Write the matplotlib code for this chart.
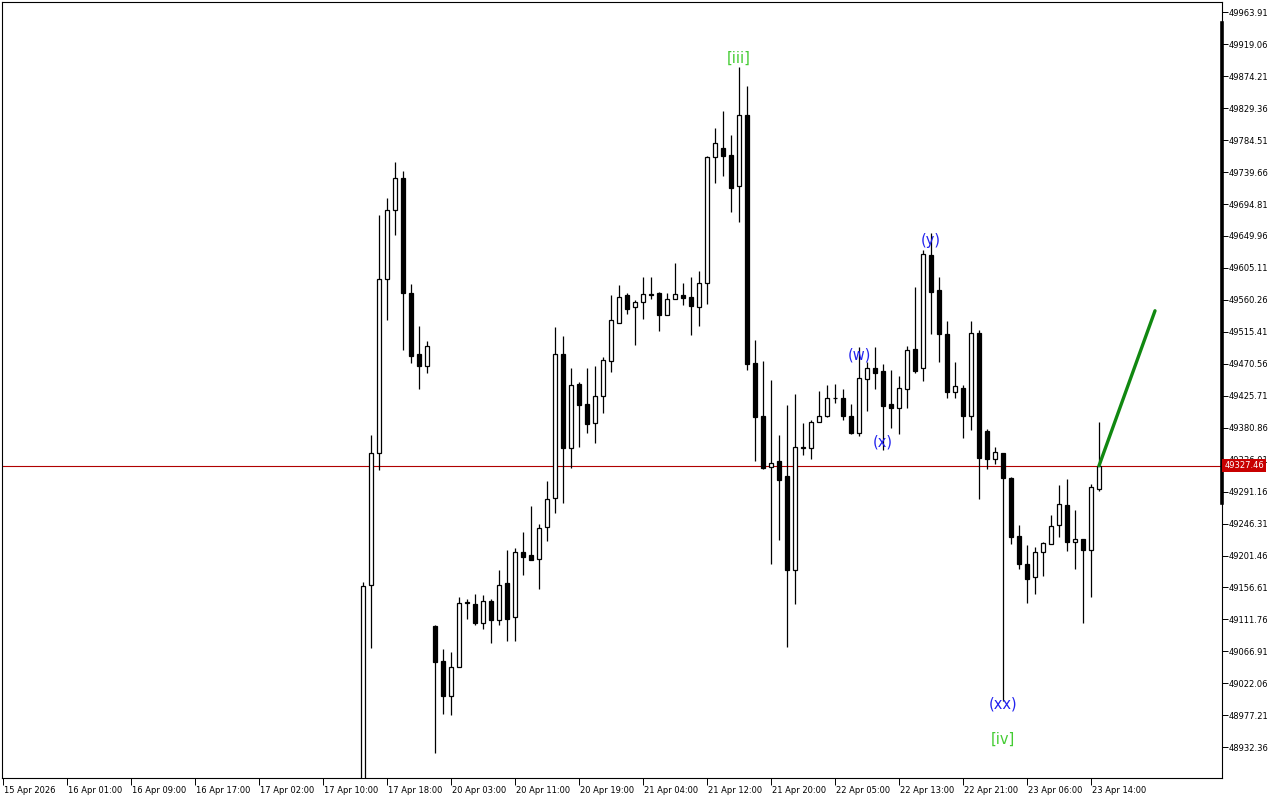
import matplotlib
matplotlib.use("Agg")
import matplotlib.pyplot as plt
import matplotlib.transforms as mtransforms

# hourly candles; bar numbers count chart slots from the left edge
first_bar = 45
opens = [48858, 49160, 49345, 49590, 49686, 49731, 49570, 49484, 49468, 49103,
         49053, 49004, 49045, 49135, 49133, 49107, 49138, 49111, 49163, 49115,
         49206, 49202, 49196, 49241, 49282, 49485, 49352, 49442, 49414, 49388,
         49425, 49474, 49528, 49567, 49550, 49557, 49568, 49570, 49539, 49561,
         49567, 49564, 49550, 49584, 49761, 49773, 49764, 49720, 49820, 49472,
         49397, 49326, 49334, 49313, 49181, 49352, 49352, 49389, 49397, 49422,
         49422, 49398, 49373, 49449, 49464, 49460, 49414, 49409, 49435, 49491,
         49464, 49623, 49574, 49512, 49431, 49437, 49398, 49514, 49376, 49337,
         49346, 49310, 49229, 49190, 49171, 49207, 49218, 49244, 49272, 49220,
         49224, 49209, 49295]
highs = [49164, 49371, 49679, 49703, 49754, 49741, 49583, 49524, 49503, 49104,
         49070, 49066, 49143, 49140, 49148, 49146, 49140, 49181, 49209, 49212,
         49235, 49271, 49246, 49306, 49522, 49510, 49464, 49445, 49465, 49468,
         49480, 49567, 49581, 49570, 49560, 49592, 49592, 49572, 49570, 49612,
         49584, 49592, 49601, 49762, 49802, 49825, 49792, 49887, 49860, 49504,
         49474, 49448, 49371, 49413, 49428, 49388, 49391, 49432, 49441, 49442,
         49435, 49414, 49494, 49473, 49494, 49470, 49462, 49454, 49496, 49578,
         49630, 49654, 49592, 49530, 49473, 49441, 49530, 49518, 49379, 49354,
         49346, 49312, 49245, 49216, 49214, 49220, 49258, 49300, 49309, 49266,
         49224, 49302, 49389]
lows = [48850, 49072, 49322, 49532, 49651, 49490, 49472, 49435, 49458, 48924,
        48979, 48977, 49045, 49112, 49104, 49098, 49079, 49104, 49082, 49082,
        49174, 49195, 49155, 49222, 49261, 49275, 49325, 49354, 49373, 49359,
        49402, 49459, 49528, 49540, 49497, 49534, 49561, 49517, 49539, 49561,
        49553, 49511, 49524, 49554, 49724, 49734, 49684, 49669, 49462, 49334,
        49323, 49189, 49223, 49073, 49134, 49343, 49337, 49389, 49396, 49416,
        49391, 49372, 49369, 49405, 49435, 49350, 49380, 49372, 49408, 49457,
        49446, 49512, 49473, 49422, 49422, 49366, 49377, 49281, 49323, 49330,
        48997, 49218, 49182, 49135, 49148, 49173, 49218, 49228, 49208, 49182,
        49107, 49143, 49292]
closes = [49159, 49345, 49590, 49686, 49731, 49570, 49482, 49468, 49496, 49052,
          49004, 49045, 49135, 49136, 49107, 49138, 49111, 49160, 49112, 49206,
          49200, 49195, 49240, 49281, 49484, 49352, 49441, 49413, 49386, 49425,
          49476, 49532, 49565, 49547, 49557, 49568, 49567, 49539, 49561, 49568,
          49563, 49552, 49584, 49761, 49780, 49762, 49718, 49820, 49470, 49396,
          49324, 49331, 49308, 49181, 49354, 49354, 49389, 49398, 49423, 49422,
          49397, 49373, 49451, 49464, 49458, 49412, 49409, 49437, 49490, 49460,
          49625, 49571, 49512, 49431, 49439, 49398, 49514, 49338, 49337, 49347,
          49310, 49228, 49190, 49169, 49207, 49219, 49243, 49274, 49220, 49224,
          49209, 49298, 49327.46]

last_price = 49327.46

time_ticks = [0, 8, 16, 24, 32, 40, 48, 56, 64, 72, 80, 88, 96, 104, 112, 120, 128, 136]
time_labels = ["15 Apr 2026", "16 Apr 01:00", "16 Apr 09:00", "16 Apr 17:00",
               "17 Apr 02:00", "17 Apr 10:00", "17 Apr 18:00", "20 Apr 03:00",
               "20 Apr 11:00", "20 Apr 19:00", "21 Apr 04:00", "21 Apr 12:00",
               "21 Apr 20:00", "22 Apr 05:00", "22 Apr 13:00", "22 Apr 21:00",
               "23 Apr 06:00", "23 Apr 14:00"]

price_ticks = [48932.36, 48977.21, 49022.06, 49066.91, 49111.76, 49156.61,
               49201.46, 49246.31, 49291.16, 49336.01, 49380.86, 49425.71,
               49470.56, 49515.41, 49560.26, 49605.11, 49649.96, 49694.81,
               49739.66, 49784.51, 49829.36, 49874.21, 49919.06, 49963.91]

# elliott wave marks: text, bar, price, colour
wave_text = ["[iii]", "(w)", "(x)", "(y)", "(xx)", "[iv]"]
wave_bar = [92, 107, 110, 116, 125, 125]
wave_price = [49900, 49483, 49361, 49644, 48993, 48943]
wave_color = ["#44cc33", "#2222ee", "#2222ee", "#2222ee", "#2222ee", "#44cc33"]

# projected move
proj_bar = [137, 144]
proj_price = [49327.46, 49545]

fig = plt.figure(figsize=(12.8, 8.0), dpi=100)
ax = fig.add_axes([2 / 1280, 22 / 800, 1220 / 1280, 776 / 800])

bars = list(range(first_bar, first_bar + len(opens)))

# wicks then bodies
ax.vlines(bars, lows, highs, color="black", lw=0.9, zorder=2)
for x, o, c in zip(bars, opens, closes):
    up = c >= o
    ax.bar(x, abs(c - o), bottom=min(o, c), width=0.62,
           color="white" if up else "black", edgecolor="black",
           linewidth=0.9, zorder=3)

# current price line
ax.axhline(last_price, color="#b00000", lw=0.8, zorder=1)

# projection
ax.plot(proj_bar, proj_price, color="#118811", lw=2.4, zorder=4,
        solid_capstyle="round")

for t, b, p, col in zip(wave_text, wave_bar, wave_price, wave_color):
    ax.text(b, p, t, color=col, fontsize=10.5, ha="center", va="center", zorder=5)

ax.set_xlim(-0.125, 152.375)
ax.set_ylim(48889.2, 49978.4)

ax.yaxis.tick_right()
ax.set_yticks(price_ticks)
ax.set_yticklabels(["%.2f" % v for v in price_ticks])
ax.tick_params(axis="y", direction="out", length=4, width=0.7, pad=1,
               labelsize=6, colors="black")

ax.set_xticks(time_ticks)
ax.set_xticklabels(time_labels, ha="left")
ax.tick_params(axis="x", direction="out", length=5, width=0.7, pad=1,
               labelsize=6)
for lab in ax.get_xticklabels():
    lab.set_transform(lab.get_transform() + mtransforms.ScaledTranslation(1 / 100, 0, fig.dpi_scale_trans))

for s in ax.spines.values():
    s.set_linewidth(0.8)
    s.set_color("black")

# thick bar on the price scale
ax.axvline(152.375, ymin=0.354, ymax=0.973, color="black", lw=2.6, clip_on=False, zorder=6)

# price tag
trans = mtransforms.blended_transform_factory(ax.transAxes, ax.transData)
ax.text(1.0018, last_price, "%.2f" % last_price, transform=trans, ha="left", va="center",
        color="white", fontsize=6, zorder=7,
        bbox=dict(facecolor="#c80000", edgecolor="none", pad=1.3))

fig.savefig("out.png", dpi=100)
